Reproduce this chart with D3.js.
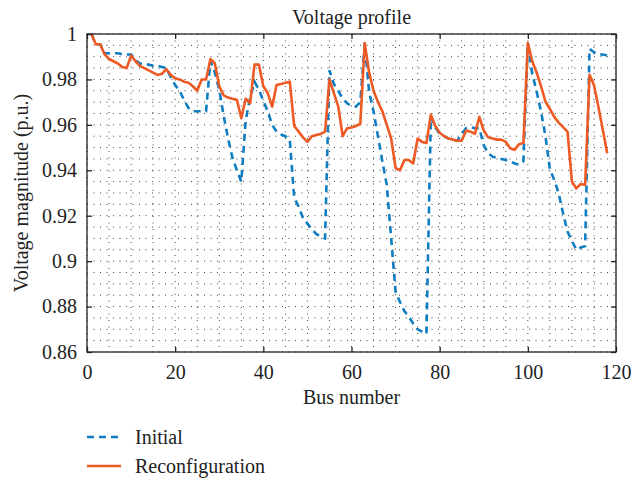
<!DOCTYPE html>
<html><head><meta charset="utf-8">
<script src="https://cdn.jsdelivr.net/npm/d3@7"></script>
<style>body{margin:0;background:#fff}svg{display:block}svg text{font-family:"Liberation Serif","Times New Roman","Tinos","DejaVu Serif","Noto Serif",Times,serif !important;fill:#222}</style>
</head><body><svg id="c" width="632" height="482"></svg>
<script>
const buses = d3.range(1, 119);
const initialV = [1.000,0.9955,0.9955,0.9915,0.9915,0.9915,0.9915,0.991,0.991,0.991,
0.9885,0.987,0.9865,0.9865,0.986,0.986,0.9855,0.985,0.981,0.9775,
0.975,0.971,0.9675,0.966,0.966,0.966,0.966,0.988,0.983,0.9755,
0.964,0.954,0.9455,0.940,0.935,0.962,0.972,0.979,0.9755,0.9705,
0.966,0.960,0.957,0.9558,0.955,0.9535,0.928,0.924,0.919,0.9165,
0.914,0.912,0.9107,0.910,0.984,0.978,0.975,0.9715,0.9695,0.9683,
0.968,0.970,0.996,0.9745,0.966,0.955,0.944,0.9335,0.910,0.8865,
0.882,0.878,0.8755,0.8725,0.870,0.869,0.868,0.9635,0.959,0.956,
0.955,0.954,0.9535,0.953,0.956,0.9585,0.959,0.9585,0.9585,0.951,
0.9475,0.946,0.9455,0.945,0.9445,0.944,0.943,0.9425,0.944,0.996,
0.9825,0.9746,0.9658,0.955,0.9405,0.9357,0.9298,0.921,0.913,0.909,
0.905,0.906,0.9066,0.9935,0.992,0.991,0.991,0.9905];
const reconfigV = [1.000,0.9955,0.9955,0.991,0.989,0.988,0.987,0.9855,0.985,0.9905,
0.988,0.986,0.985,0.984,0.983,0.982,0.9825,0.9845,0.982,0.9805,
0.980,0.979,0.9785,0.977,0.975,0.980,0.980,0.989,0.987,0.977,
0.973,0.972,0.9715,0.971,0.963,0.9715,0.9695,0.9865,0.9865,0.977,
0.974,0.968,0.9775,0.978,0.9785,0.979,0.9595,0.957,0.9545,0.9525,
0.955,0.9555,0.956,0.957,0.980,0.974,0.968,0.955,0.9585,0.9588,
0.9595,0.9605,0.996,0.983,0.975,0.970,0.966,0.960,0.954,0.941,
0.940,0.9445,0.9445,0.943,0.954,0.9525,0.952,0.9645,0.9595,0.9565,
0.955,0.954,0.9535,0.953,0.953,0.9575,0.957,0.956,0.9635,0.9575,
0.9545,0.954,0.9535,0.9535,0.9525,0.9497,0.949,0.9515,0.952,0.996,
0.988,0.983,0.977,0.9702,0.967,0.9635,0.961,0.959,0.957,0.935,
0.932,0.934,0.9335,0.982,0.9775,0.968,0.958,0.9475];
const xTicks = [0,20,40,60,80,100,120];
const yTicks = [0.86,0.88,0.9,0.92,0.94,0.96,0.98,1];
const legendLabels = ["Initial","Reconfiguration"];
const title = "Voltage profile", xTitle = "Bus number", yTitle = "Voltage magnitude (p.u.)";

const FONT='"Liberation Serif","Times New Roman",Tinos,"DejaVu Serif",serif';
const L=87,R=616,T=34,B=352;
const svg=d3.select("#c");
const x=d3.scaleLinear().domain([0,120]).range([L,R]);
const y=d3.scaleLinear().domain([0.86,1]).range([B,T]);
const blue="#0F7DC2", orange="#EE5A24";

// grid
const g=svg.append("g");
const gx=d3.range(0,120.01,5), gy=d3.range(0.86,1.0001,0.005);
g.selectAll("line.vx").data(gx).join("line").attr("x1",d=>x(d)).attr("x2",d=>x(d)).attr("y1",T).attr("y2",B)
 .attr("stroke","#444").attr("stroke-width",1).attr("stroke-dasharray","1,5.5");
g.selectAll("line.hy").data(gy).join("line").attr("y1",d=>y(d)).attr("y2",d=>y(d)).attr("x1",L).attr("x2",R)
 .attr("stroke","#444").attr("stroke-width",1).attr("stroke-dasharray","1,5.5");

// lines
const line=(arr)=>d3.line().x((d,i)=>x(buses[i])).y(d=>y(d))(arr);
svg.append("path").attr("d",line(initialV)).attr("fill","none").attr("stroke",blue).attr("stroke-width",2.6).attr("stroke-dasharray","7,5");
svg.append("path").attr("d",line(reconfigV)).attr("fill","none").attr("stroke",orange).attr("stroke-width",2.6).attr("stroke-linejoin","round");

// frame & ticks
svg.append("rect").attr("x",L).attr("y",T).attr("width",R-L).attr("height",B-T).attr("fill","none").attr("stroke","#222").attr("stroke-width",1.3);
const axB=d3.axisBottom(x).tickValues(xTicks).tickSize(-5).tickPadding(13).tickFormat(d3.format("d"));
const axL=d3.axisLeft(y).tickValues(yTicks).tickSize(-5).tickPadding(10).tickFormat(d=>d===1?"1":d3.format(".2~f")(d));
const axT=d3.axisTop(x).tickValues(xTicks).tickSize(-5).tickFormat("");
const axR=d3.axisRight(y).tickValues(yTicks).tickSize(-5).tickFormat("");
[[axB,`translate(0,${B})`],[axL,`translate(${L},0)`],[axT,`translate(0,${T})`],[axR,`translate(${R},0)`]].forEach(([a,t])=>{
  const gg=svg.append("g").attr("transform",t).call(a).attr("font-family",FONT).attr("font-size",20);
  gg.select(".domain").remove();
  gg.selectAll("line").attr("stroke","#222").attr("stroke-width",1.3);
  gg.selectAll("text").style("font-family",FONT).style("font-size","20px").attr("fill","#222");
});

const txt=(xx,yy,s)=>svg.append("text").attr("x",xx).attr("y",yy).style("font-family",FONT).style("font-size","20px").text(s);
txt((L+R)/2,24,title).attr("text-anchor","middle");
txt((L+R)/2,404,xTitle).attr("text-anchor","middle");
txt(0,0,yTitle).attr("transform",`translate(28,${(T+B)/2}) rotate(-90)`).attr("text-anchor","middle");

// legend
[[blue,"7,5",437],[orange,null,466]].forEach(([c,da,yy],i)=>{
  svg.append("line").attr("x1",87).attr("x2",121).attr("y1",yy).attr("y2",yy).attr("stroke",c).attr("stroke-width",2.6).attr("stroke-dasharray",da);
  txt(135,yy+7,legendLabels[i]);
});
</script></body></html>
